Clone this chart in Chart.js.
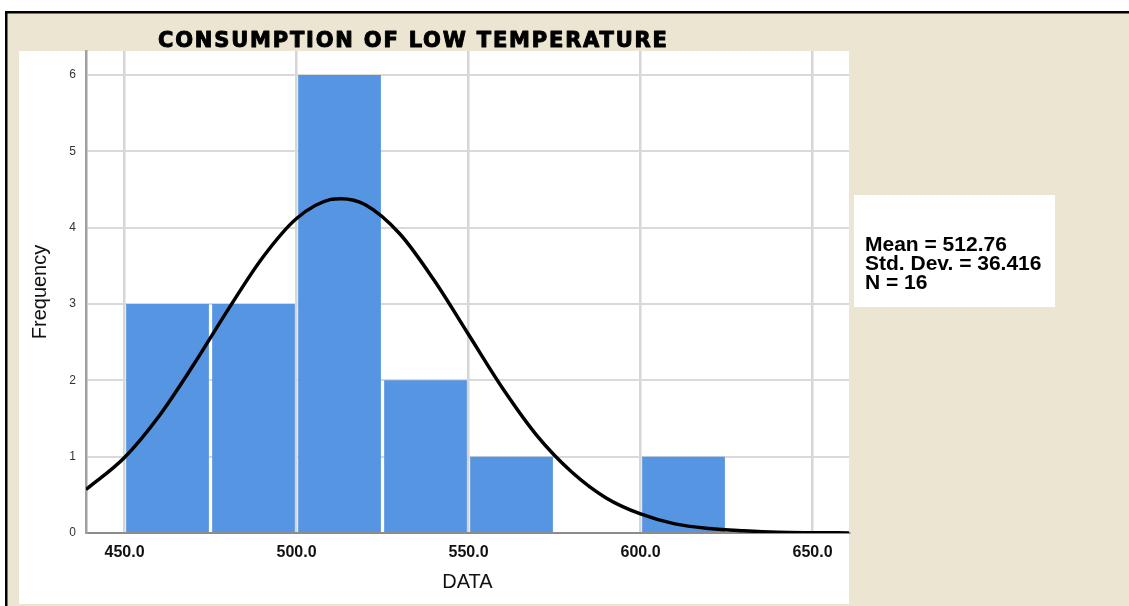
<!DOCTYPE html>
<html>
<head>
<meta charset="utf-8">
<title>Consumption of Low Temperature</title>
<script src="https://cdn.jsdelivr.net/npm/chart.js@4.4.1/dist/chart.umd.min.js"></script>
<style>
  html, body { margin: 0; padding: 0; background: #ffffff; overflow: hidden; }
  #wrap { width: 1129px; height: 606px; position: relative; }
  canvas { display: block; }
</style>
</head>
<body>
<div id="wrap"><canvas id="histogram" width="1129" height="606"></canvas></div>
<script>
// Histogram bins (lower edge of each 25-unit class) and their frequencies
const binLower = [450, 475, 500, 525, 550, 575, 600];
const binWidth = 25;
const frequency = [3, 3, 6, 2, 1, 0, 1];

// Fitted normal curve, sampled along the DATA axis
const curveX = [438.8, 450, 460, 470, 480, 490, 500, 510, 513, 520, 530, 540, 550, 560, 570, 580, 590, 600, 610, 620, 630, 640, 650, 660.6];
const curveY = [0.57, 0.99, 1.53, 2.20, 2.92, 3.60, 4.12, 4.37, 4.38, 4.30, 3.92, 3.31, 2.60, 1.89, 1.27, 0.80, 0.46, 0.25, 0.12, 0.06, 0.03, 0.01, 0.004, 0.001];

// Axis ticks and labels
const xTicks = [450, 500, 550, 600, 650];
const xTickLabels = ['450.0', '500.0', '550.0', '600.0', '650.0'];
const yTicks = [0, 1, 2, 3, 4, 5, 6];

// Titles and summary statistics
const chartTitle = 'CONSUMPTION OF LOW TEMPERATURE';
const xAxisTitle = 'DATA';
const yAxisTitle = 'Frequency';
const statLines = ['Mean = 512.76', 'Std. Dev. = 36.416', 'N = 16'];

const BEIGE = '#ebe5d1';
const BAR_BLUE = '#5595e2';

// Frame, beige backdrop, white plot panel and the statistics box
const backdrop = {
  id: 'backdrop',
  beforeDraw(chart) {
    const ctx = chart.ctx;
    const W = chart.width, H = chart.height;
    ctx.save();
    ctx.fillStyle = '#ffffff';
    ctx.fillRect(0, 0, W, H);
    ctx.fillStyle = BEIGE;
    ctx.fillRect(6, 12, W - 6, H - 12);
    ctx.fillStyle = '#000000';
    ctx.fillRect(5, 11, W - 5, 2.5);
    ctx.fillRect(5, 11, 2.5, H - 11);
    ctx.fillStyle = '#ffffff';
    ctx.fillRect(19, 51, chart.chartArea.right - 19, 604 - 51);
    ctx.fillRect(854, 195, 201, 112);
    ctx.restore();
  },
  afterDraw(chart) {
    const ctx = chart.ctx;
    ctx.save();
    // chart title, heavy weight
    ctx.fillStyle = '#000000';
    ctx.strokeStyle = '#000000';
    ctx.lineWidth = 1;
    ctx.lineJoin = 'round';
    ctx.font = 'bold 21px "DejaVu Sans"';
    ctx.textBaseline = 'alphabetic';
    ctx.textAlign = 'left';
    if ('letterSpacing' in ctx) ctx.letterSpacing = '1.8px';
    ctx.fillText(chartTitle, 158, 46.5);
    ctx.strokeText(chartTitle, 158, 46.5);
    if ('letterSpacing' in ctx) ctx.letterSpacing = '0px';
    // statistics
    ctx.font = 'bold 21px "Liberation Sans", Arial, sans-serif';
    const baselines = [251, 270, 288.5];
    statLines.forEach((line, i) => ctx.fillText(line, 865, baselines[i]));
    ctx.restore();
  }
};

const barData = binLower.map((lo, i) => ({ x: lo + binWidth / 2, y: frequency[i] }));
const curveData = curveX.map((x, i) => ({ x, y: curveY[i] }));

new Chart(document.getElementById('histogram'), {
  type: 'bar',
  data: {
    datasets: [
      {
        type: 'line',
        label: 'Normal',
        data: curveData,
        borderColor: '#000000',
        borderWidth: 3.5,
        pointRadius: 0,
        fill: false,
        cubicInterpolationMode: 'monotone',
        order: 1
      },
      {
        type: 'bar',
        label: 'Frequency',
        data: barData,
        backgroundColor: BAR_BLUE,
        borderWidth: 0,
        barPercentage: 0.962,
        categoryPercentage: 1,
        order: 2
      }
    ]
  },
  options: {
    responsive: false,
    animation: false,
    devicePixelRatio: 1,
    layout: { padding: { left: 20, right: 280, top: 51, bottom: 2 } },
    plugins: {
      legend: { display: false },
      tooltip: { enabled: false },
      title: { display: false }
    },
    scales: {
      x: {
        type: 'linear',
        min: 438.8,
        max: 660.6,
        offset: false,
        afterBuildTicks: (scale) => { scale.ticks = xTicks.map(v => ({ value: v })); },
        afterFit: (scale) => { scale.height = 71; },
        grid: {
          offset: false,
          color: '#d6d6d6',
          lineWidth: 2.5,
          drawTicks: false
        },
        border: { display: true, color: '#8c8c8c', width: 2 },
        ticks: {
          padding: 10,
          color: '#111111',
          font: { family: '"Liberation Sans", Arial, sans-serif', size: 16, weight: 'bold' },
          maxRotation: 0,
          autoSkip: false,
          callback: (value) => xTickLabels[xTicks.indexOf(value)]
        },
        title: {
          display: true,
          text: xAxisTitle,
          color: '#111111',
          font: { family: '"Liberation Sans", Arial, sans-serif', size: 20, weight: 'normal' },
          padding: { top: 0, bottom: 10 }
        }
      },
      y: {
        type: 'linear',
        min: 0,
        max: 6.314,
        afterBuildTicks: (scale) => { scale.ticks = yTicks.map(v => ({ value: v })); },
        afterFit: (scale) => { scale.width = 66; },
        grid: {
          color: (ctx) => ctx.tick && ctx.tick.value === 0 ? '#8c8c8c' : '#d9d9d9',
          lineWidth: 2,
          drawTicks: false
        },
        border: { display: true, color: '#a0a0a0', width: 2.5 },
        ticks: {
          padding: 10,
          color: '#333333',
          font: { family: '"Liberation Sans", Arial, sans-serif', size: 12 },
          autoSkip: false,
          callback: (value) => String(value)
        },
        title: {
          display: true,
          text: yAxisTitle,
          color: '#111111',
          font: { family: '"Liberation Sans", Arial, sans-serif', size: 20, weight: 'normal' },
          padding: { top: 8, bottom: 0 }
        }
      }
    }
  },
  plugins: [backdrop]
});
</script>
</body>
</html>
